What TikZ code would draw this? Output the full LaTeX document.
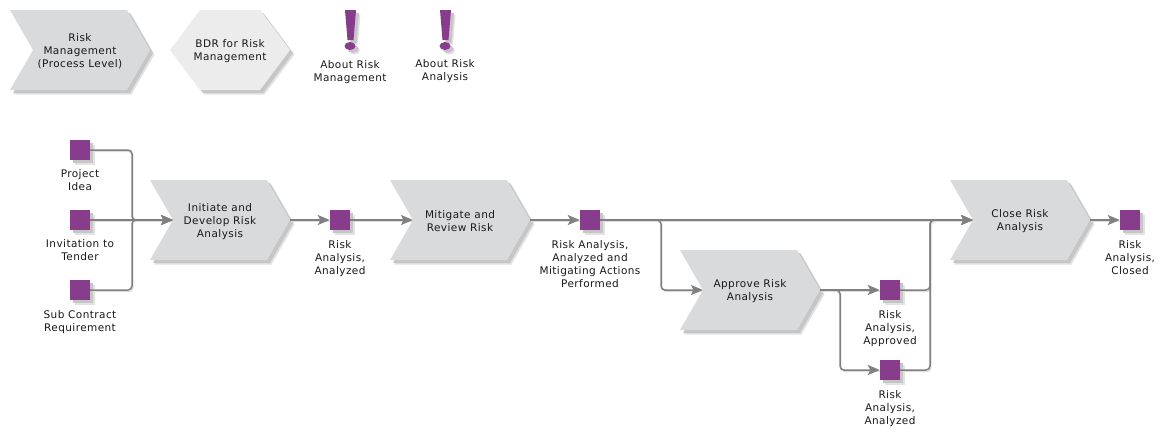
\documentclass[tikz,border=0pt]{standalone}
\usepackage{fontspec}
\setmainfont[LetterSpace=4]{DejaVu Sans}
\usetikzlibrary{arrows.meta}
\definecolor{procfill}{HTML}{D9DADC}
\definecolor{hexfill}{HTML}{ECECEC}
\definecolor{shadowa}{HTML}{E2E2E2}
\definecolor{shadowb}{HTML}{C6C6C6}
\definecolor{purp}{HTML}{873C8C}
\definecolor{linec}{HTML}{808080}
\definecolor{lineshadow}{HTML}{DEDEDE}
\tikzset{
  x=1pt,y=-1pt,
  lbl/.style={font=\fontsize{10.5}{13}\selectfont,align=center,inner sep=0pt,text=black!90},
  sq/.style={minimum size=20pt,inner sep=0pt,fill=purp},
  link/.style={draw=linec,line width=1.5pt,rounded corners=4pt},
  arrowlink/.style={link,-{Stealth[length=12pt,width=10pt,inset=2.5pt]}},
  linkshadow/.style={draw=lineshadow,line width=1.4pt,rounded corners=4pt},
}
\newcommand{\softshadow}[1]{%
  \fill[shadowa,shift={(4.5,4.5)}] #1;
  \fill[shadowb,shift={(3,3)}] #1;
}
% chevron centred on #2,#3; entry and exit coordinates named #1-in and #1-out
\newcommand{\proc}[4]{%
  \def\chev{(#2-70,#3-40) -- (#2+47,#3-40) -- (#2+70,#3) -- (#2+47,#3+40) -- (#2-70,#3+40) -- (#2-47,#3) -- cycle}%
  \softshadow{\chev}
  \fill[procfill] \chev;
  \node[lbl] (#1) at (#2,#3+1.5) {#4};
  \coordinate (#1-in) at (#2-47,#3);
  \coordinate (#1-out) at (#2+70,#3);
}
\newcommand{\evt}[5]{%
  \def\sqp{(#2-10,#3-10) rectangle (#2+10,#3+10)}%
  \softshadow{\sqp}
  \node[sq] (#1) at (#2,#3) {};
  \node[lbl,anchor=north] (#1-t) at (#2,#4) {#5};
}
\newcommand{\bang}[1]{%
  \def\barp{(#1-5,10) -- (#1+6,10) -- (#1+3.5,40) -- (#1-2.5,40) -- cycle}%
  \def\dotp{(#1,46) ellipse (5.5pt and 4pt)}%
  \softshadow{\barp}
  \softshadow{\dotp}
  \fill[purp] \barp;
  \fill[purp] \dotp;
}
\begin{document}
\begin{tikzpicture}
\useasboundingbox (0,0) rectangle (1164,437);
% top row
\proc{rm}{80}{50}{Risk\\Management\\(Process Level)}
\def\hexp{(170,50) -- (200,10) -- (260,10) -- (290,50) -- (260,90) -- (200,90) -- cycle}
\softshadow{\hexp}
\fill[hexfill] \hexp;
\node[lbl] (bdr) at (230,51.5) {BDR for Risk\\Management};
\bang{350}
\node[lbl,anchor=north] (arm) at (350,60) {About Risk\\Management};
\bang{445}
\node[lbl,anchor=north] (ara) at (445,59) {About Risk\\Analysis};
% processes
\proc{init}{220}{220}{Initiate and\\Develop Risk\\Analysis}
\proc{miti}{460}{220}{Mitigate and\\Review Risk}
\proc{appr}{750}{290}{Approve Risk\\Analysis}
\proc{clos}{1020}{220}{Close Risk\\Analysis}
% connector shadows
\begin{scope}[shift={(1,1.5)}]
\path[linkshadow] (90,150) -| (132,220) -- (173,220);
\path[linkshadow] (90,290) -| (132,220);
\path[linkshadow] (90,220) -- (173,220);
\path[linkshadow] (290,220) -- (330,220);
\path[linkshadow] (350,220) -- (413,220);
\path[linkshadow] (530,220) -- (580,220);
\path[linkshadow] (600,220) -- (973,220);
\path[linkshadow] (600,220) -| (661,290) -- (703,290);
\path[linkshadow] (820,290) -- (880,290);
\path[linkshadow] (820,290) -| (840,370) -- (880,370);
\path[linkshadow] (900,290) -| (930,220) -- (973,220);
\path[linkshadow] (900,370) -| (930,220);
\path[linkshadow] (1090,220) -- (1120,220);
\end{scope}
% events
\evt{idea}{80}{150}{169}{Project\\Idea}
\evt{tender}{80}{220}{239}{Invitation to\\Tender}
\evt{sub}{80}{290}{310}{Sub Contract\\Requirement}
\evt{ana}{340}{220}{240}{Risk\\Analysis,\\Analyzed}
\evt{perf}{590}{220}{240}{Risk Analysis,\\Analyzed and\\Mitigating Actions\\Performed}
\evt{aprv}{890}{290}{310}{Risk\\Analysis,\\Approved}
\evt{ana2}{890}{370}{390}{Risk\\Analysis,\\Analyzed}
\evt{closed}{1130}{220}{240}{Risk\\Analysis,\\Closed}
% connectors
\coordinate (j1) at (132,220);
\coordinate (j2) at (930,220);
\coordinate (j3) at (661,290);
\coordinate (j4) at (840,370);
\draw[arrowlink] (idea.east) -| (j1) -- (init-in);
\draw[arrowlink] (sub.east) -| (j1) -- (init-in);
\draw[arrowlink] (tender.east) -- (init-in);
\draw[arrowlink] (init-out) -- (ana.west);
\draw[arrowlink] (ana.east) -- (miti-in);
\draw[arrowlink] (miti-out) -- (perf.west);
\draw[arrowlink] (perf.east) -- (clos-in);
\draw[arrowlink] (perf.east) -| (j3) -- (appr-in);
\draw[arrowlink] (appr-out) -- (aprv.west);
\draw[arrowlink] (appr-out) -| (j4) -- (ana2.west);
\draw[arrowlink] (aprv.east) -| (j2) -- (clos-in);
\draw[arrowlink] (ana2.east) -| (j2) -- (clos-in);
\draw[arrowlink] (clos-out) -- (closed.west);
\end{tikzpicture}
\end{document}
